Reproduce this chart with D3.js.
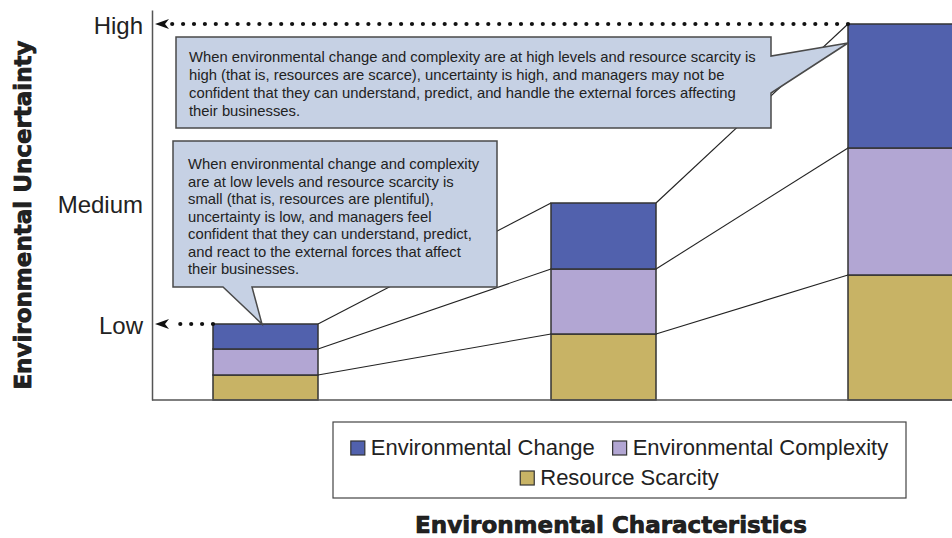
<!DOCTYPE html>
<html>
<head>
<meta charset="utf-8">
<script src="https://cdn.jsdelivr.net/npm/d3@7"></script>
<style>
  body { margin: 0; background: #fff; }
  text { font-family: "Liberation Sans", Arial, sans-serif; fill: #222; }
</style>
</head>
<body>
<div id="chart"></div>
<script>
// Data (units: relative uncertainty contribution)
const levels = ["Low", "Medium", "High"];
const seriesKeys = ["Resource Scarcity", "Environmental Complexity", "Environmental Change"];
const resourceScarcity = [1, 2.64, 5];
const environmentalComplexity = [1.04, 2.6, 5.08];
const environmentalChange = [1, 2.64, 4.96];
const legendOrder = [["Environmental Change", "Environmental Complexity"], ["Resource Scarcity"]];

const highNote = [
    "When environmental change and complexity are at high levels and resource scarcity is",
    "high (that is, resources are scarce), uncertainty is high, and managers may not be",
    "confident that they can understand, predict, and handle the external forces affecting",
    "their businesses."
];
const lowNote = [
    "When environmental change and complexity",
    "are at low levels and resource scarcity is",
    "small (that is, resources are plentiful),",
    "uncertainty is low, and managers feel",
    "confident that they can understand, predict,",
    "and react to the external forces that affect",
    "their businesses."
];

const colors = {
    "Environmental Change": "#5161ad",
    "Environmental Complexity": "#b2a6d3",
    "Resource Scarcity": "#c8b365"
};

const width = 952, height = 538;
const axisX = 152, baseY = 400;
const barW = 105;

const table = levels.map((lev, i) => ({
    level: lev,
    "Resource Scarcity": resourceScarcity[i],
    "Environmental Complexity": environmentalComplexity[i],
    "Environmental Change": environmentalChange[i]
}));
const stacked = d3.stack().keys(seriesKeys)(table);
const totals = table.map(d => d3.sum(seriesKeys, k => d[k]));

const y = d3.scaleLinear().domain([0, 15.6]).range([baseY, 10]);
const x = d3.scaleOrdinal().domain(levels).range([213, 551, 848]);

const svg = d3.select("#chart").append("svg")
    .attr("width", width)
    .attr("height", height);

// Connector lines between segment tops of neighbouring bars
const connectors = svg.append("g");
stacked.forEach(layer => {
    for (let i = 0; i < levels.length - 1; i++) {
        connectors.append("line")
            .attr("x1", x(levels[i]) + barW)
            .attr("y1", y(layer[i][1]))
            .attr("x2", x(levels[i + 1]))
            .attr("y2", y(layer[i + 1][1]))
            .attr("stroke", "#222")
            .attr("stroke-width", 1.1);
    }
});

// Stacked bars
svg.append("g")
    .selectAll("g")
    .data(stacked)
    .join("g")
    .attr("fill", d => colors[d.key])
    .selectAll("rect")
    .data(d => d)
    .join("rect")
    .attr("x", d => x(d.data.level))
    .attr("y", d => y(d[1]))
    .attr("width", barW)
    .attr("height", d => y(d[0]) - y(d[1]))
    .attr("stroke", "#333")
    .attr("stroke-width", 1.5);

// Axes
const yAxis = svg.append("g")
    .attr("transform", `translate(${axisX},0)`)
    .call(d3.axisLeft(y)
        .tickValues(totals)
        .tickFormat((d, i) => levels[i])
        .tickSize(0)
        .tickSizeOuter(0)
        .tickPadding(9));
yAxis.select(".domain").attr("stroke", "#555").attr("stroke-width", 1.5);
yAxis.selectAll("text")
    .style("font-family", "'Liberation Sans', Arial, sans-serif")
    .style("font-size", "24px")
    .attr("dy", "0.38em")
    .attr("fill", "#222");

svg.append("line")
    .attr("x1", axisX).attr("x2", width)
    .attr("y1", baseY).attr("y2", baseY)
    .attr("stroke", "#555").attr("stroke-width", 1.5);

// Dotted arrows for Low and High
["Low", "High"].forEach(lev => {
    const i = levels.indexOf(lev);
    const yy = y(totals[i]);
    svg.append("line")
        .attr("x1", x(lev)).attr("y1", yy)
        .attr("x2", 172).attr("y2", yy)
        .attr("stroke", "#111")
        .attr("stroke-width", 4.2)
        .attr("stroke-linecap", "round")
        .attr("stroke-dasharray", "0 10.9");
    svg.append("path")
        .attr("d", `M${axisX + 3},${yy} L${axisX + 17},${yy - 5} L${axisX + 13},${yy} L${axisX + 17},${yy + 5} Z`)
        .attr("fill", "#111");
});

// Callouts
function callout(pathD, lines, tx, ty, lh) {
    svg.append("path")
        .attr("d", pathD)
        .attr("fill", "#c6d1e4")
        .attr("stroke", "#4a4a4a")
        .attr("stroke-width", 1.5)
        .attr("stroke-linejoin", "miter");
    const t = svg.append("text")
        .attr("x", tx)
        .attr("y", ty)
        .style("font-size", "14.8px");
    lines.forEach((s, i) => {
        t.append("tspan").attr("x", tx).attr("y", ty + i * lh).text(s);
    });
}

const hiTipX = x("High"), hiTipY = 43;
callout(`M176,37 H771 V56 L${hiTipX},${hiTipY} L771,93 V128 H176 Z`, highNote, 189, 62, 18);

const loTipX = 262, loTipY = y(totals[0]);
callout(`M173,141 H497 V287 H252 L${loTipX},${loTipY} L223,287 H173 Z`, lowNote, 188, 169, 17.5);

// Legend
const legend = svg.append("g");
legend.append("rect")
    .attr("x", 333).attr("y", 422)
    .attr("width", 573).attr("height", 76)
    .attr("fill", "#fff")
    .attr("stroke", "#444")
    .attr("stroke-width", 1.2);

const legendCx = 619.5;
legendOrder.forEach((row, r) => {
    const rowG = legend.append("g");
    let cursor = 0;
    row.forEach(name => {
        const item = rowG.append("g").attr("transform", `translate(${cursor},0)`);
        item.append("rect")
            .attr("x", 0).attr("y", -14)
            .attr("width", 14).attr("height", 14)
            .attr("fill", colors[name])
            .attr("stroke", "#333")
            .attr("stroke-width", 1.2);
        const txt = item.append("text")
            .attr("x", 20).attr("y", 0)
            .style("font-size", "22px")
            .text(name);
        cursor += 20 + txt.node().getComputedTextLength() + 18;
    });
    const w = cursor - 18;
    rowG.attr("transform", `translate(${legendCx - w / 2},${455 + r * 30})`);
});

// Axis titles
svg.append("text")
    .attr("transform", "translate(23,215) rotate(-90)")
    .attr("text-anchor", "middle")
    .attr("dy", "0.36em")
    .style("font-family", "'DejaVu Sans', sans-serif")
    .style("font-weight", "bold")
    .style("font-size", "23px")
    .attr("fill", "#111")
    .attr("stroke", "#111")
    .attr("stroke-width", 0.7)
    .text("Environmental Uncertainty");

svg.append("text")
    .attr("x", 611)
    .attr("y", 533)
    .attr("text-anchor", "middle")
    .style("font-family", "'DejaVu Sans', sans-serif")
    .style("font-weight", "bold")
    .style("font-size", "23px")
    .attr("fill", "#111")
    .attr("stroke", "#111")
    .attr("stroke-width", 0.7)
    .text("Environmental Characteristics");
</script>
</body>
</html>
